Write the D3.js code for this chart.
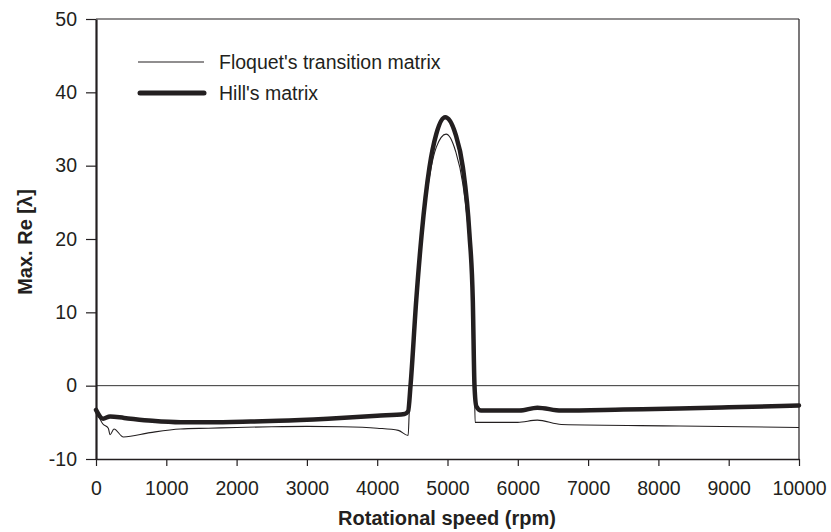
<!DOCTYPE html>
<html>
<head>
<meta charset="utf-8">
<script src="https://cdn.jsdelivr.net/npm/d3@7"></script>
<style>
  body { margin: 0; background: #fff; }
  text { font-family: "Liberation Sans", Arial, Helvetica, sans-serif; fill: #231f20; }
</style>
</head>
<body>
<script>
// chart size
var width = 831;
var height = 532;

// data
var hillRpm = [0, 100, 200, 400, 800, 1200, 1600, 2200, 2600, 3300, 4000, 4390, 4440, 4474, 4555, 4633, 4744, 4840, 4967, 5114, 5218, 5312, 5360, 5384, 5410, 5478, 6023, 6278, 6619, 7500, 8295, 9000, 10000];
var hillVal = [-3.3, -4.5, -4.2, -4.4, -4.8, -5.0, -5.0, -4.9, -4.8, -4.5, -4.1, -3.85, -3.5, 0, 11.6, 20.7, 29.8, 34.3, 36.6, 34.3, 29.8, 20.7, 11.6, 0, -2.8, -3.4, -3.4, -3.0, -3.4, -3.25, -3.1, -2.95, -2.7];

var floquetRpm = [0, 95, 175, 200, 256, 390, 770, 1200, 1600, 2000, 2500, 3000, 3500, 4000, 4300, 4440, 4455, 4474, 4555, 4633, 4744, 4840, 4980, 5114, 5218, 5312, 5360, 5384, 5393, 6000, 6278, 6619, 8300, 10000];
var floquetVal = [-3.3, -5.2, -5.8, -6.7, -5.9, -7.0, -6.4, -5.9, -5.8, -5.7, -5.6, -5.55, -5.6, -5.8, -6.1, -6.8, -3.8, 0, 11.2, 20.0, 28.5, 32.5, 34.3, 32.0, 27.5, 19.0, 10.5, 0, -5.0, -5.0, -4.7, -5.3, -5.5, -5.7];

var xTicks = [0, 1000, 2000, 3000, 4000, 5000, 6000, 7000, 8000, 9000, 10000];
var yTicks = [-10, 0, 10, 20, 30, 40, 50];

var svg = d3.select('body')
    .append('svg')
    .attr('width', width)
    .attr('height', height);

// scales
var xScale = d3.scaleLinear().domain([0, 10000]).range([96, 799]);
var yScale = d3.scaleLinear().domain([-10, 50]).range([459, 19]);

// plain labels, hyphen minus like the original
var plain = function(d){ return String(d); };

// frame top and right
svg.append('line')
    .attr('x1', 96).attr('x2', 799)
    .attr('y1', yScale(50)).attr('y2', yScale(50))
    .attr('stroke', '#231f20').attr('stroke-width', 1.2);
svg.append('line')
    .attr('x1', 799).attr('x2', 799)
    .attr('y1', yScale(50)).attr('y2', yScale(-10))
    .attr('stroke', '#231f20').attr('stroke-width', 1.2);

// zero line
svg.append('line')
    .attr('x1', 96).attr('x2', 799)
    .attr('y1', yScale(0)).attr('y2', yScale(0))
    .attr('stroke', '#333').attr('stroke-width', 1);

// axes
var xAxis = d3.axisBottom(xScale).tickValues(xTicks).tickFormat(plain)
    .tickSize(7).tickSizeOuter(0).tickPadding(15);
var xAxisGroup = svg.append('g')
    .attr('transform', 'translate(0,' + yScale(-10) + ')')
    .call(xAxis);
xAxisGroup.select('.domain').attr('stroke', '#231f20').attr('stroke-width', 1.4);
xAxisGroup.selectAll('.tick line').attr('stroke', '#231f20').attr('stroke-width', 1.2);
xAxisGroup.selectAll('.tick text').attr('font-size', 19.5).attr('fill', '#231f20')
    .attr('font-family', '"Liberation Sans", Arial, sans-serif');

var yAxis = d3.axisLeft(yScale).tickValues(yTicks).tickFormat(plain)
    .tickSize(10).tickSizeOuter(0).tickPadding(9);
var yAxisGroup = svg.append('g')
    .attr('transform', 'translate(96,0)')
    .call(yAxis);
yAxisGroup.select('.domain').attr('stroke', '#231f20').attr('stroke-width', 2.2);
yAxisGroup.selectAll('.tick line').attr('stroke', '#231f20').attr('stroke-width', 1.2);
yAxisGroup.selectAll('.tick text').attr('font-size', 19.5).attr('fill', '#231f20')
    .attr('font-family', '"Liberation Sans", Arial, sans-serif');

// axis titles
svg.append('text')
    .attr('x', 447)
    .attr('y', 525)
    .attr('text-anchor', 'middle')
    .attr('font-size', 20)
    .attr('font-weight', 'bold')
    .text('Rotational speed (rpm)');

svg.append('text')
    .attr('transform', 'translate(32,242) rotate(-90)')
    .attr('text-anchor', 'middle')
    .attr('font-size', 20)
    .attr('font-weight', 'bold')
    .text('Max. Re [λ]');

// curves
var floquetData = floquetRpm.map(function(r, i){ return [r, floquetVal[i]]; });
var hillData = hillRpm.map(function(r, i){ return [r, hillVal[i]]; });

var line = d3.line()
    .x(function(d){ return xScale(d[0]); })
    .y(function(d){ return yScale(d[1]); })
    .curve(d3.curveMonotoneX);

svg.append('path')
    .datum(floquetData)
    .attr('d', line)
    .attr('fill', 'none')
    .attr('stroke', '#231f20')
    .attr('stroke-width', 1.1);

svg.append('path')
    .datum(hillData)
    .attr('d', line)
    .attr('fill', 'none')
    .attr('stroke', '#231f20')
    .attr('stroke-width', 4.5)
    .attr('stroke-linejoin', 'round')
    .attr('stroke-linecap', 'round');

// legend
var legend = svg.append('g');
legend.append('line')
    .attr('x1', 138).attr('x2', 204).attr('y1', 62).attr('y2', 62)
    .attr('stroke', '#231f20').attr('stroke-width', 1.1);
legend.append('text')
    .attr('x', 219).attr('y', 69)
    .attr('font-size', 19.5)
    .text("Floquet's transition matrix");
legend.append('line')
    .attr('x1', 140).attr('x2', 204).attr('y1', 93).attr('y2', 93)
    .attr('stroke', '#231f20').attr('stroke-width', 5)
    .attr('stroke-linecap', 'round');
legend.append('text')
    .attr('x', 219).attr('y', 100)
    .attr('font-size', 19.5)
    .text("Hill's matrix");
</script>
</body>
</html>
